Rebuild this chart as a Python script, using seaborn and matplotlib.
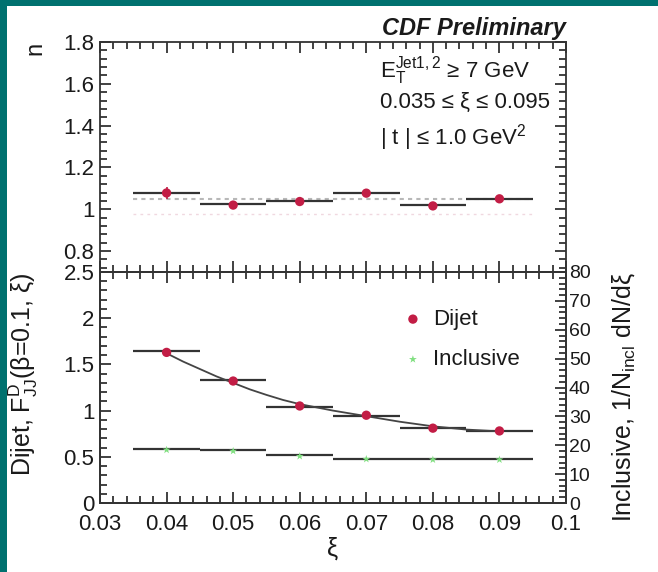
import numpy as np
import pandas as pd
import matplotlib
matplotlib.use("Agg")
import matplotlib.pyplot as plt
from matplotlib.patches import Rectangle
import seaborn as sns

# ---- data ----
xi_centers = [0.04, 0.05, 0.06, 0.07, 0.08, 0.09]
bin_lo = [0.035, 0.045, 0.055, 0.065, 0.075, 0.085]
bin_hi = [0.045, 0.055, 0.065, 0.075, 0.085, 0.095]

n_points = [1.078, 1.020, 1.037, 1.077, 1.016, 1.050]
n_err = [0.030, 0.015, 0.012, 0.015, 0.015, 0.012]
n_bars = [1.080, 1.025, 1.040, 1.080, 1.020, 1.050]
n_mean = 1.048

dijet_points = [1.63, 1.32, 1.05, 0.95, 0.81, 0.78]
dijet_err = [0.04, 0.03, 0.03, 0.02, 0.02, 0.02]
dijet_bars = [1.64, 1.33, 1.04, 0.94, 0.81, 0.775]
fit_xi = [0.040, 0.0425, 0.045, 0.0475, 0.050, 0.0525, 0.055, 0.0575, 0.060, 0.065,
          0.070, 0.075, 0.080, 0.085, 0.090]
fit_val = [1.62, 1.53, 1.45, 1.37, 1.30, 1.23, 1.17, 1.115, 1.07, 1.00,
           0.94, 0.88, 0.83, 0.795, 0.775]

incl_points = [18.4, 18.0, 16.2, 15.2, 15.0, 15.0]
incl_bars = [18.7, 18.3, 16.5, 15.4, 15.3, 15.3]

xticks = [0.03, 0.04, 0.05, 0.06, 0.07, 0.08, 0.09, 0.1]
xtick_labels = ["0.03", "0.04", "0.05", "0.06", "0.07", "0.08", "0.09", "0.1"]

# ---- style ----
sns.set_style("ticks")
plt.rcParams['font.family'] = ['Liberation Sans', 'DejaVu Sans']
plt.rcParams['mathtext.fontset'] = 'custom'
plt.rcParams['mathtext.rm'] = 'Liberation Sans'
plt.rcParams['mathtext.it'] = 'Liberation Sans:italic'
plt.rcParams['mathtext.bf'] = 'Liberation Sans:bold'

TEAL = "#00716f"
RED = "#c21d45"
GREEN = "#80df80"
TXT = "#1a1a1a"

fig = plt.figure(figsize=(6.58, 5.72), dpi=100)
fig.patch.set_facecolor(TEAL)
bg = Rectangle((7/658, 0), 1, 1 - 6/572, transform=fig.transFigure,
               facecolor="white", edgecolor="none", zorder=-10)
fig.patches.append(bg)

ax1 = fig.add_axes([0.152, 0.5245, 0.7082, 0.4021])
ax2 = fig.add_axes([0.152, 0.1206, 0.7082, 0.4039])
ax2r = ax2.twinx()
for a in (ax1, ax2, ax2r):
    a.set_facecolor("none")
    a.set_zorder(1)
ax2r.set_zorder(2)

df_n = pd.DataFrame({"xi": xi_centers, "n": n_points, "err": n_err,
                     "lo": bin_lo, "hi": bin_hi, "bar": n_bars})
df_d = pd.DataFrame({"xi": xi_centers, "v": dijet_points, "err": dijet_err,
                     "lo": bin_lo, "hi": bin_hi, "bar": dijet_bars})
df_i = pd.DataFrame({"xi": xi_centers, "v": incl_points,
                     "lo": bin_lo, "hi": bin_hi, "bar": incl_bars})
df_fit = pd.DataFrame({"xi": fit_xi, "v": fit_val})

# ---- top panel ----
ax1.hlines(n_mean, bin_lo[0], bin_hi[-1], colors="#b8b8b8", linestyles=(0, (2, 2)), lw=1.5, zorder=1)
ax1.hlines(n_mean - 0.07, bin_lo[0], bin_hi[-1], colors="#f0d8e0", linestyles=(0, (2, 3)), lw=1.0, zorder=1)
ax1.hlines(df_n["bar"], df_n["lo"], df_n["hi"], colors="#333333", lw=1.6, zorder=2)
ax1.errorbar(df_n["xi"], df_n["n"], yerr=df_n["err"], fmt="none", ecolor=RED, elinewidth=1.2, zorder=3)
sns.scatterplot(data=df_n, x="xi", y="n", ax=ax1, color=RED, s=45, edgecolor="none", zorder=4, legend=False)

x_minor = np.round(np.arange(0.03, 0.1001, 0.002), 4)

ax1.set_xlim(0.03, 0.1)
ax1.set_ylim(0.7, 1.8)
ax1.set_yticks([0.8, 1.0, 1.2, 1.4, 1.6, 1.8])
ax1.set_yticklabels(["0.8", "1", "1.2", "1.4", "1.6", "1.8"])
ax1.set_yticks(np.round(np.arange(0.72, 1.8001, 0.04), 3), minor=True)
ax1.set_xticks(xticks)
ax1.set_xticks(x_minor, minor=True)
ax1.tick_params(axis="x", labelbottom=False)
ax1.set_xlabel("")
ax1.set_ylabel("n", fontsize=17, color=TXT, loc="top")
ax1.yaxis.set_label_coords(-0.114, 1.0)

ax1.text(0.60, 0.875, r"$\mathrm{E_T^{Jet1,2}}$ ≥ 7 GeV", transform=ax1.transAxes,
         fontsize=16, color=TXT, va="center", ha="left")
ax1.text(0.60, 0.735, "0.035 ≤ ξ ≤ 0.095", transform=ax1.transAxes,
         fontsize=16, color=TXT, va="center", ha="left")
ax1.text(0.60, 0.585, r"| t | ≤ 1.0 GeV$^2$", transform=ax1.transAxes,
         fontsize=16, color=TXT, va="center", ha="left")
fig.text(566/658, 1 - 28/572, "CDF Preliminary", fontsize=17, fontweight="bold",
         fontstyle="italic", ha="right", va="center", color=TXT)

# ---- bottom panel ----
ax2.hlines(df_d["bar"], df_d["lo"], df_d["hi"], colors="#333333", lw=1.6, zorder=2)
sns.lineplot(data=df_fit, x="xi", y="v", ax=ax2, color="#444444", lw=1.3, zorder=2)
ax2.errorbar(df_d["xi"], df_d["v"], yerr=df_d["err"], fmt="none", ecolor=RED, elinewidth=1.2, zorder=3)
sns.scatterplot(data=df_d, x="xi", y="v", ax=ax2, color=RED, s=45, edgecolor="none", zorder=4, legend=False)

ax2r.hlines(df_i["bar"], df_i["lo"], df_i["hi"], colors="#333333", lw=1.6, zorder=2)
sns.scatterplot(data=df_i, x="xi", y="v", ax=ax2r, color=GREEN, s=35, marker="*", edgecolor="none",
                zorder=4, legend=False)

ax2.set_xlim(0.03, 0.1)
ax2.set_ylim(0, 2.5)
ax2r.set_ylim(0, 80)
ax2.set_xticks(xticks)
ax2.set_xticklabels(xtick_labels)
ax2.set_xticks(x_minor, minor=True)
ax2.set_yticks([0, 0.5, 1, 1.5, 2, 2.5])
ax2.set_yticklabels(["0", "0.5", "1", "1.5", "2", "2.5"])
ax2.set_yticks(np.round(np.arange(0, 2.5001, 0.1), 2), minor=True)
ax2r.set_yticks([0, 10, 20, 30, 40, 50, 60, 70, 80])
ax2r.set_yticks(np.arange(0, 81, 2), minor=True)

ax2.set_xlabel("ξ", fontsize=18, color=TXT, labelpad=1)
ax2.set_ylabel(r"Dijet, $\mathrm{F^D_{JJ}}$(β=0.1, ξ)", fontsize=18, color=TXT, loc="top")
ax2.yaxis.set_label_coords(-0.129, 1.0)
ax2r.set_ylabel(r"Inclusive, $\mathrm{1/N_{incl}\ dN/d}$ξ", fontsize=18, color=TXT, loc="top")
ax2r.yaxis.set_label_coords(1.094, 1.0)

# legend (drawn as markers + text)
ax2.scatter([0.0770], [1.99], color=RED, s=45, edgecolor="none", zorder=5)
ax2.text(0.0800, 1.99, "Dijet", fontsize=16, color=TXT, va="center", ha="left")
ax2.scatter([0.0770], [1.555], color=GREEN, s=35, marker="*", edgecolor="none", zorder=5)
ax2.text(0.0800, 1.555, "Inclusive", fontsize=16, color=TXT, va="center", ha="left")

# ---- ticks / spines ----
for ax in (ax1, ax2):
    ax.tick_params(which="both", direction="in", top=True, right=True, colors="#333333", labelcolor=TXT, labelsize=16)
    ax.tick_params(which="major", length=8, width=1.3)
    ax.tick_params(which="minor", length=5, width=1.3)
    for s in ax.spines.values():
        s.set_linewidth(1.3)
        s.set_color("#333333")
ax2.tick_params(axis="y", right=False, which="both")
ax2r.tick_params(which="both", direction="in", colors="#333333", labelcolor=TXT, labelsize=14, pad=2)
ax2r.tick_params(which="major", length=8, width=1.3)
ax2r.tick_params(which="minor", length=5, width=1.3)
for s in ax2r.spines.values():
    s.set_linewidth(1.3)
    s.set_color("#333333")
ax1.tick_params(axis="y", pad=4)
ax2.tick_params(axis="y", pad=4)
ax2.tick_params(axis="x", pad=8)

fig.savefig("out.png", dpi=100, facecolor=fig.get_facecolor())
